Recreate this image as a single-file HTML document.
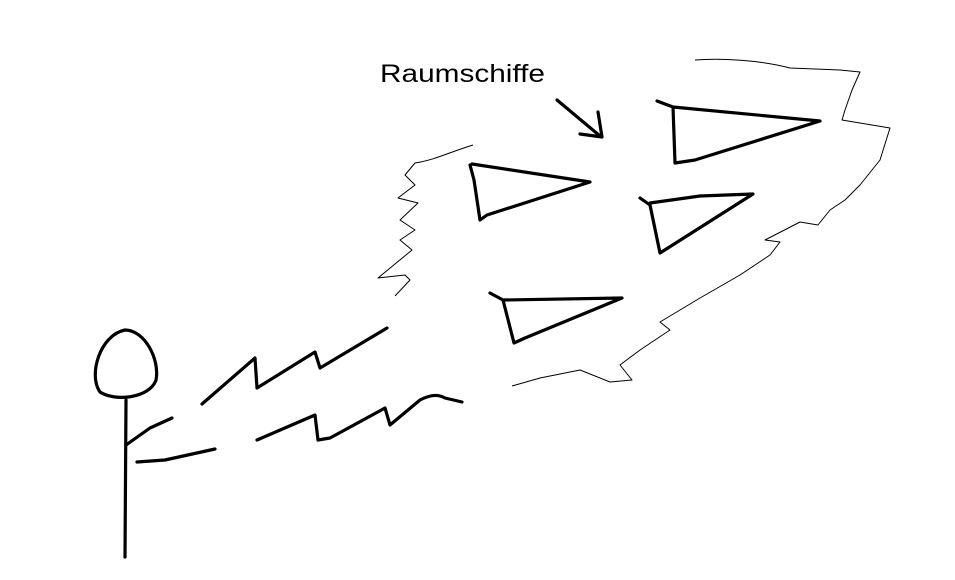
<!DOCTYPE html>
<html><head><meta charset="utf-8"><style>
html,body{margin:0;padding:0;background:#fff;}
svg{display:block;}
</style></head><body>
<svg width="955" height="580" viewBox="0 0 955 580" xmlns="http://www.w3.org/2000/svg">
<rect width="955" height="580" fill="#fff"/>
<text x="380" y="82" font-family="Liberation Sans, sans-serif" font-size="25" fill="#000" textLength="165" lengthAdjust="spacingAndGlyphs">Raumschiffe</text>
<g fill="none" stroke="#000" stroke-width="3.2" stroke-linecap="round" stroke-linejoin="round">
<path d="M557,100 L600,136 M598,112 L602,137 L580,134"/>
<path d="M657,101 L673,107 L675,163 L695,160 L820,121 L673,107"/>
<path d="M470,165 L474,180 L480,220 L487,215 L590,182 L472,164"/>
<path d="M640,198 L650,205 L660,253 L753,194 L700,196 L650,203"/>
<path d="M490,293 L503,300 L514,343 L525,338 L622,298 L503,300"/>
<path d="M125,330 C100,335 88,375 100,392 C115,402 150,398 156,380 C160,360 145,330 125,330 Z"/>
<path d="M126,400 L125,557"/>
<path d="M126,445 L150,428 L172,418"/>
<path d="M137,462 L165,460 L215,449"/>
<path d="M202,404 L255,358 L257,388 L315,352 L320,368 L387,328"/>
<path d="M257,440 L315,415 L318,440 L330,438 L385,408 L390,425 L420,400 Q435,392 445,398 L462,402"/>
</g>
<g fill="none" stroke="#000" stroke-width="1" stroke-linejoin="round">
<path d="M473,145 C450,152 435,160 415,163 L405,175 L415,185 L398,198 L418,203 L400,220 L415,230 L400,240 L412,250 L378,278 L405,275 L410,280 L395,296"/>
<path d="M695,60 C720,58 760,60 790,68 L840,70 L860,72 L852,90 L845,110 L842,120 L890,128 L880,160 L860,185 L845,200 L830,210 L818,225 L800,222 L765,240 L780,242 L770,255 L740,275 L700,298 L660,322 L670,330 L640,350 L620,365 L632,380 L610,382 L580,370 L540,378 L512,386"/>
</g>
</svg>
</body></html>
